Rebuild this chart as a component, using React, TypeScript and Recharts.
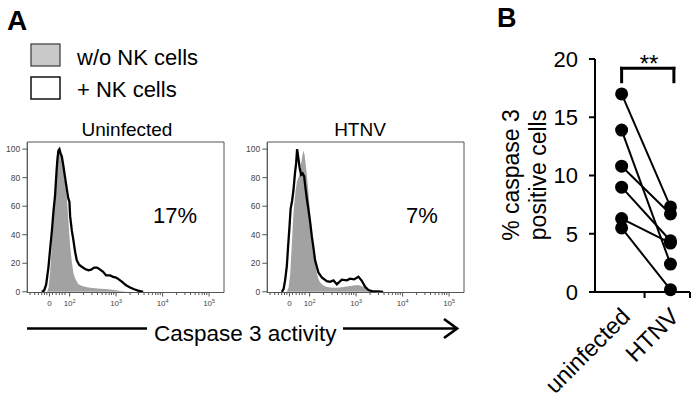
import React from 'react';
import { Area, ComposedChart, Line, LineChart, ReferenceArea, ReferenceLine, XAxis, YAxis } from 'recharts';

const FONT = '"Liberation Sans", Arial, Helvetica, sans-serif';

// flow histograms: x is the display position in decades (10^3 -> 3), y is % of max
const uninfNoNkX = [1.516, 1.548, 1.581, 1.617, 1.652, 1.688, 1.725, 1.759, 1.785, 1.806, 1.839, 1.871, 1.903, 1.94, 1.974, 2.011, 2.047, 2.082, 2.118, 2.183, 2.269, 2.355, 2.441, 2.548, 2.656, 2.763, 2.871, 2.978, 3.086, 3.194, 3.301];
const uninfNoNkY = [0, 3, 14, 33, 52, 71, 88, 96, 98, 96, 92, 86, 76, 66, 50, 32, 21, 13, 9.5, 5.5, 4, 3.3, 2.8, 2.5, 2.2, 2, 1.6, 1.2, 0.6, 0.2, 0];
const uninfNkX = [1.402, 1.452, 1.495, 1.544, 1.581, 1.617, 1.652, 1.688, 1.72, 1.738, 1.759, 1.781, 1.806, 1.832, 1.867, 1.903, 1.94, 1.968, 1.996, 2.011, 2.047, 2.082, 2.118, 2.155, 2.204, 2.262, 2.333, 2.404, 2.462, 2.527, 2.591, 2.656, 2.72, 2.785, 2.871, 2.935, 3.0, 3.065, 3.129, 3.215, 3.301, 3.387, 3.473, 3.581];
const uninfNkY = [0, 1, 5, 17, 30, 42, 56, 68, 85, 93, 99, 100, 97, 95, 88, 80, 72, 66, 63, 53, 43, 36, 28, 22, 19, 17.5, 16, 15, 15.5, 17, 17, 15.5, 14, 11.5, 11.5, 10.5, 10, 8.5, 7, 4.5, 3, 1.8, 0.8, 0];

const htnvNoNkX = [1.51, 1.548, 1.581, 1.617, 1.652, 1.688, 1.725, 1.759, 1.785, 1.806, 1.832, 1.867, 1.892, 1.914, 1.94, 1.974, 2.011, 2.047, 2.082, 2.118, 2.155, 2.189, 2.226, 2.29, 2.355, 2.441, 2.548, 2.656, 2.763, 2.871, 2.978, 3.043, 3.129, 3.215, 3.301, 3.387];
const htnvNoNkY = [0, 3, 12, 33, 55, 68, 77, 80, 82, 88, 93, 99, 96, 90, 82, 70, 54, 41, 30, 20, 13, 9, 6.5, 4.5, 3.5, 3, 2.8, 3, 3.5, 4, 4.5, 4.8, 3.8, 2.5, 1, 0];
const htnvNkX = [1.402, 1.441, 1.473, 1.51, 1.538, 1.566, 1.591, 1.624, 1.652, 1.688, 1.71, 1.731, 1.757, 1.785, 1.817, 1.849, 1.882, 1.914, 1.946, 1.978, 2.011, 2.047, 2.082, 2.118, 2.189, 2.262, 2.37, 2.441, 2.512, 2.585, 2.692, 2.8, 2.871, 2.957, 3.049, 3.123, 3.194, 3.265, 3.344, 3.473, 3.581];
const htnvNkY = [0, 2, 8, 18, 32, 45, 58, 64, 71, 84, 90, 100, 94, 87, 82, 83, 81, 72, 64, 57, 49, 39, 31, 22, 13.5, 10, 7.5, 7, 8, 5.2, 8.5, 8, 9.2, 8.7, 10.5, 7.7, 3.5, 1.2, 0.5, 0.2, 0];

const flowMajorTicks = [1.566, 2, 3, 4, 5];
const flowTickExp = ['', '2', '3', '4', '5'];
const flowMinorTicks = [1.15, 1.25, 1.33, 1.4, 1.46, 1.51, 1.63, 1.71, 1.78, 1.84, 1.9, 2.3, 2.48, 2.6, 2.7, 2.78, 2.85, 2.9, 2.95, 3.3, 3.48, 3.6, 3.7, 3.78, 3.85, 3.9, 3.95, 4.3, 4.48, 4.6, 4.7, 4.78, 4.85, 4.9, 4.95];
const countTicks = [0, 20, 40, 60, 80, 100];

// panel B: paired donors
const groups = ['uninfected', 'HTNV'];
const uninfectedPct = [17.0, 13.9, 10.8, 9.0, 6.3, 5.5];
const htnvPct = [7.3, 2.4, 6.7, 4.4, 4.2, 0.2];
const pctTicks = [0, 5, 10, 15, 20];

function mergeCurves(gx: number[], gy: number[], bx: number[], by: number[]) {
  const m = new Map<number, any>();
  gx.forEach((x, i) => { const r = m.get(x) ?? { x }; r.grey = gy[i]; m.set(x, r); });
  bx.forEach((x, i) => { const r = m.get(x) ?? { x }; r.black = by[i]; m.set(x, r); });
  return [...m.values()].sort((a, b) => a.x - b.x);
}

const uninfRows = mergeCurves(uninfNoNkX, uninfNoNkY, uninfNkX, uninfNkY);
const htnvRows = mergeCurves(htnvNoNkX, htnvNoNkY, htnvNkX, htnvNkY);

const pairRows = groups.map((g, gi) => {
  const row: any = { x: gi + 1, name: g };
  (gi === 0 ? uninfectedPct : htnvPct).forEach((v, k) => { row['d' + k] = v; });
  return row;
});

const FlowTick = (props: any) => {
  const { x, y, payload } = props;
  const i = flowMajorTicks.indexOf(payload.value);
  const major = i >= 0;
  return (
    <g>
      <line x1={x} x2={x} y1={y} y2={y + (major ? 4 : 2.5)} stroke="#555" strokeWidth={1} />
      {major && (
        <text x={x} y={y + 13.5} textAnchor="middle" fontSize={8} fill="#444" fontFamily={FONT}>
          {flowTickExp[i] ? (
            <>10<tspan dy={-3.5} fontSize={5.5}>{flowTickExp[i]}</tspan></>
          ) : '0'}
        </text>
      )}
    </g>
  );
};

const GroupTick = (props: any) => {
  const { x, y, payload } = props;
  const v = payload.value;
  if (Number.isInteger(v)) {
    const ax = x + 10;
    const ay = y + 26;
    return (
      <text x={ax} y={ay} textAnchor="end" fontSize={23.5} fontFamily={FONT} fill="#000" transform={`rotate(-45 ${ax} ${ay})`}>
        {groups[v - 1]}
      </text>
    );
  }
  return <line x1={x} x2={x} y1={y} y2={y + 6} stroke="#000" strokeWidth={2} />;
};

function Histogram({ rows, left }: { rows: any[]; left: number }) {
  return (
    <div style={{ position: 'absolute', left, top: 130 }}>
      <ComposedChart width={230} height={190} data={rows} margin={{ top: 12, right: 6, bottom: 0, left: 5 }}>
        <XAxis
          type="number"
          dataKey="x"
          domain={[1.09, 5.32]}
          ticks={[...flowMajorTicks, ...flowMinorTicks].sort((a, b) => a - b)}
          interval={0}
          tick={<FlowTick />}
          tickLine={false}
          tickSize={0}
          tickMargin={0}
          height={27.5}
          axisLine={{ stroke: '#555' }}
          allowDataOverflow
        />
        <YAxis
          type="number"
          domain={[-0.5, 105]}
          ticks={countTicks}
          interval={0}
          width={22.3}
          tick={{ fontSize: 8.5, fill: '#444', fontFamily: FONT }}
          tickSize={5}
          tickMargin={2}
          tickLine={{ stroke: '#555' }}
          axisLine={{ stroke: '#555' }}
          allowDataOverflow
        />
        <ReferenceArea x1={1.09} x2={5.32} y1={-0.5} y2={105} fill="none" stroke="#555" strokeWidth={1} />
        <Area type="linear" dataKey="grey" fill="#a2a2a2" fillOpacity={1} stroke="none" connectNulls isAnimationActive={false} />
        <Line type="linear" dataKey="black" stroke="#000" strokeWidth={2.3} dot={false} connectNulls isAnimationActive={false} />
      </ComposedChart>
    </div>
  );
}

export default function App() {
  const txt = { fontFamily: FONT, fill: '#000' };
  return (
    <div style={{ position: 'absolute', left: 0, top: 0, width: 700, height: 401, background: '#fff', fontFamily: FONT }}>
      <Histogram rows={uninfRows} left={0} />
      <Histogram rows={htnvRows} left={240} />

      <div style={{ position: 'absolute', left: 470, top: 0 }}>
        <LineChart width={230} height={401} data={pairRows} margin={{ top: 59, right: 10, bottom: 9, left: 65 }}>
          <XAxis
            type="number"
            dataKey="x"
            domain={[0.455, 2.4]}
            ticks={[1, 1.47, 2, 2.4]}
            interval={0}
            tick={<GroupTick />}
            tickLine={false}
            tickSize={0}
            tickMargin={0}
            height={100}
            axisLine={{ stroke: '#000', strokeWidth: 2 }}
            allowDataOverflow
          />
          <YAxis
            type="number"
            domain={[0, 20]}
            ticks={pctTicks}
            interval={0}
            width={60}
            tick={{ fontSize: 22, fill: '#000', fontFamily: FONT }}
            tickSize={6}
            tickMargin={11}
            tickLine={{ stroke: '#000', strokeWidth: 2 }}
            axisLine={{ stroke: '#000', strokeWidth: 2 }}
          />
          <ReferenceLine segment={[{ x: 1, y: 18.05 }, { x: 1, y: 19.2 }]} stroke="#000" strokeWidth={3} strokeLinecap="square" />
          <ReferenceLine segment={[{ x: 1, y: 19.2 }, { x: 2.07, y: 19.2 }]} stroke="#000" strokeWidth={3} strokeLinecap="square" />
          <ReferenceLine segment={[{ x: 2.07, y: 18.05 }, { x: 2.07, y: 19.2 }]} stroke="#000" strokeWidth={3} strokeLinecap="square" />
          {uninfectedPct.map((_, k) => (
            <Line
              key={k}
              type="linear"
              dataKey={'d' + k}
              stroke="#000"
              strokeWidth={2}
              dot={{ r: 6.5, fill: '#000', stroke: 'none' }}
              isAnimationActive={false}
            />
          ))}
        </LineChart>
      </div>

      <svg width={700} height={401} style={{ position: 'absolute', left: 0, top: 0, pointerEvents: 'none' }}>
        <text x={7} y={30} fontSize={28} fontWeight="bold" {...txt}>A</text>
        <text x={497} y={27} fontSize={27} fontWeight="bold" {...txt}>B</text>

        <rect x={31} y={44} width={29} height={22} fill="#c9c9c9" stroke="#444" strokeWidth={1.3} />
        <text x={77} y={65} fontSize={22} {...txt}>w/o NK cells</text>
        <rect x={31} y={77} width={29} height={22} fill="#fff" stroke="#111" strokeWidth={1.5} />
        <text x={77} y={97} fontSize={22} {...txt}>+ NK cells</text>

        <text x={127} y={136} fontSize={19} textAnchor="middle" {...txt}>Uninfected</text>
        <text x={360} y={136} fontSize={19} textAnchor="middle" {...txt}>HTNV</text>
        <text x={175} y={223} fontSize={22} textAnchor="middle" {...txt}>17%</text>
        <text x={422} y={223} fontSize={22} textAnchor="middle" {...txt}>7%</text>

        <line x1={27} x2={147} y1={328.5} y2={328.5} stroke="#000" strokeWidth={2.7} />
        <text x={154} y={341} fontSize={22.5} {...txt}>Caspase 3 activity</text>
        <line x1={343} x2={456} y1={328.5} y2={328.5} stroke="#000" strokeWidth={2.7} />
        <path d="M444 319 L457 328.5 L444 338" fill="none" stroke="#000" strokeWidth={2.7} />

        <text x={649} y={72} fontSize={24} textAnchor="middle" {...txt}>**</text>
        <text x={519} y={175} fontSize={23} textAnchor="middle" transform="rotate(-90 519 175)" {...txt}>% caspase 3</text>
        <text x={546} y={175} fontSize={23} textAnchor="middle" transform="rotate(-90 546 175)" {...txt}>positive cells</text>
      </svg>
    </div>
  );
}
